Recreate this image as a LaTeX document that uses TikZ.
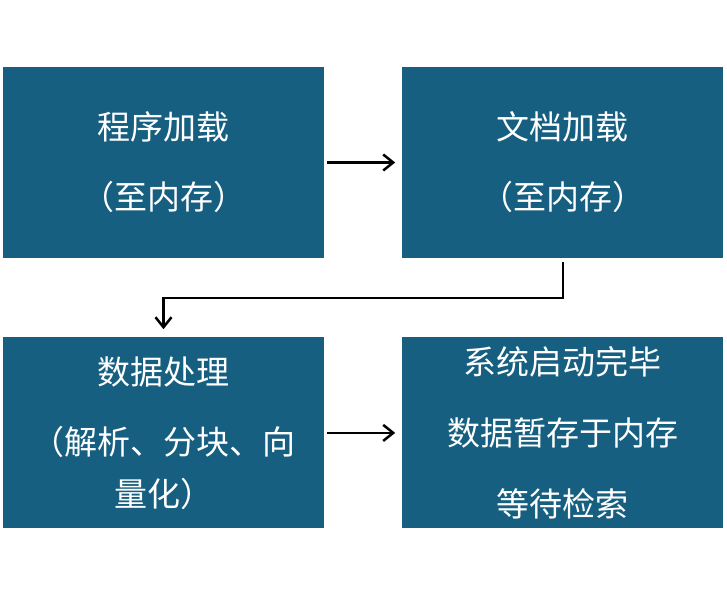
\documentclass[tikz,border=0pt]{standalone}
\usepackage{fontspec}
\setmainfont{Noto Sans CJK SC}
\usetikzlibrary{arrows.meta,positioning}
\definecolor{stepblue}{RGB}{22,95,128}

\begin{document}
\begin{tikzpicture}[
  x=1pt, y=1pt,
  >={Straight Barb[length=10pt,width=16pt]},
  box/.style={fill=stepblue, text=white, minimum width=321pt, minimum height=191pt, inner sep=0pt, align=center, font=\fontsize{33}{52}\selectfont},
  conn/.style={->, line width=2.5pt}
]
\useasboundingbox (0,0) rectangle (727,594);

\node[box] (load) at (163.5,431.5) {程序加载\\[18pt]（至内存）};
\node[box, right=78pt of load] (doc) {文档加载\\[18pt]（至内存）};
\node[box, below=79pt of load] (proc) {数据处理\\[18pt]（解析、分块、向\\量化）};
\node[box, right=78pt of proc] (done) {系统启动完毕\\[19pt]数据暂存于内存\\[19pt]等待检索};

\draw[conn] ([xshift=3pt]load.east) -- ([xshift=-7pt]doc.west);
\draw[conn] ([yshift=-4pt]doc.south) -- ++(0,-36) -| ([yshift=8pt]proc.north);
\draw[conn] ([xshift=3pt]proc.east) -- ([xshift=-7pt]done.west);
\end{tikzpicture}
\end{document}
